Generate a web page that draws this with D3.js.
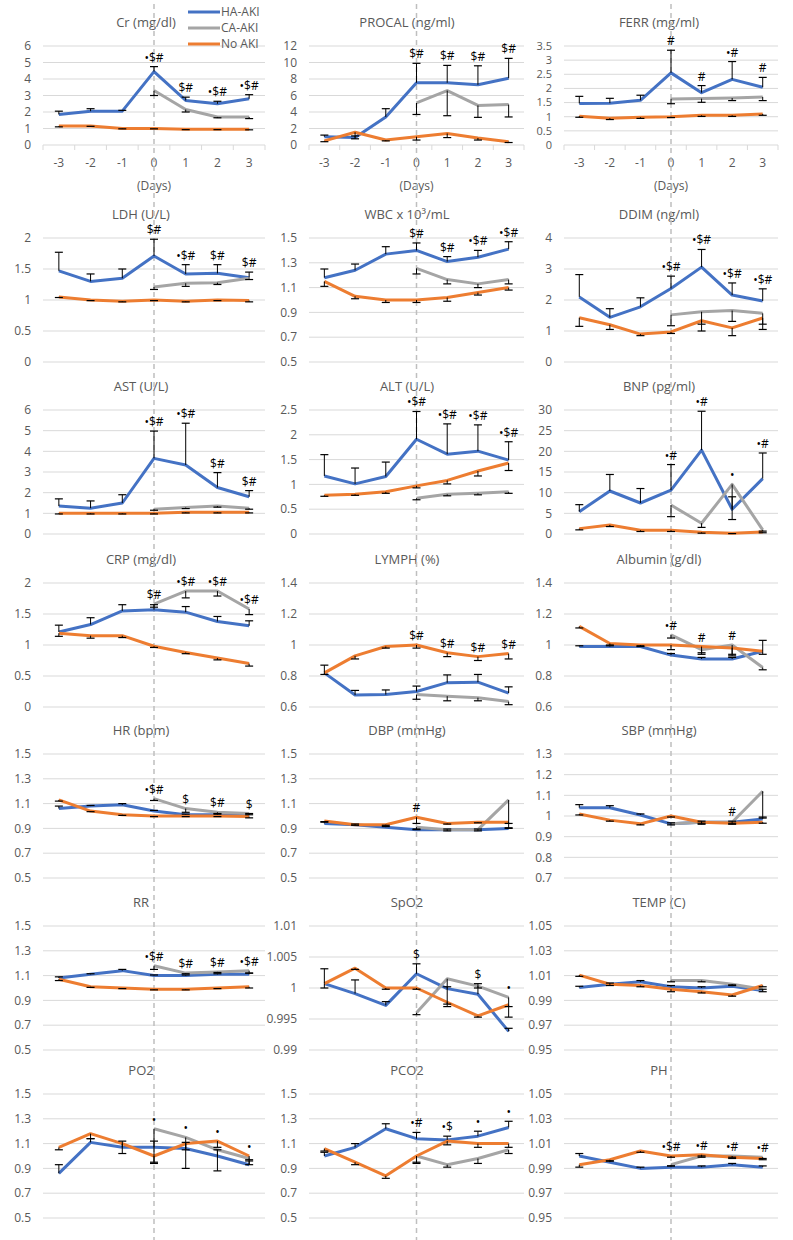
<!DOCTYPE html>
<html>
<head>
<meta charset="utf-8">
<script src="https://cdn.jsdelivr.net/npm/d3@7"></script>
<style>
  body { margin: 0; background: #fff; }
  svg { display: block; font-family: "Open Sans", sans-serif; }
</style>
</head>
<body>
<svg id="chart" width="793" height="1240"></svg>
<script>
// days relative to AKI onset; CA-AKI only has values from day 0
const days = [-3, -2, -1, 0, 1, 2, 3];
const caDays = [0, 1, 2, 3];
const seriesNames = ["HA-AKI", "CA-AKI", "No AKI"];

// Cr
const crHA = [1.85, 2.05, 2.05, 4.45, 2.7, 2.5, 2.8];
const crHAErr = [0.2, 0.15, 0.05, 0.3, 0.2, 0.15, 0.25];
const crCA = [3.3, 2.15, 1.7, 1.7];
const crCAErr = [0.3, 0.15, 0.05, 0.1];
const crNo = [1.15, 1.15, 1.0, 1.0, 0.95, 0.95, 0.95];
const crNoErr = [0.05, 0.02, 0.02, 0.02, 0.02, 0.02, 0.03];
const crMarks = ["•$#", "$#", "•$#", "•$#"];
const crTicks = [0, 1, 2, 3, 4, 5, 6];

// PROCAL
const pctHA = [1.0, 0.9, 3.4, 7.55, 7.55, 7.3, 8.1];
const pctHAErr = [0.2, 0.2, 1.0, 2.35, 2.1, 2.3, 2.4];
const pctCA = [5.1, 6.6, 4.8, 4.9];
const pctCAErr = [1.4, 3.05, 1.45, 1.5];
const pctNo = [0.5, 1.55, 0.6, 1.0, 1.4, 0.85, 0.4];
const pctNoErr = [0.1, 0.8, 0.1, 0.4, 0.5, 0.25, 0.1];
const pctMarks = ["$#", "$#", "$#", "$#"];
const pctTicks = [0, 2, 4, 6, 8, 10, 12];

// FERR
const ferHA = [1.47, 1.48, 1.58, 2.55, 1.85, 2.32, 2.04];
const ferHAErr = [0.25, 0.17, 0.18, 0.8, 0.25, 0.63, 0.35];
const ferCA = [1.63, 1.64, 1.66, 1.7];
const ferCAErr = [0.17, 0.13, 0.09, 0.13];
const ferNo = [1.02, 0.95, 0.98, 1.0, 1.05, 1.05, 1.1];
const ferNoErr = [0.04, 0.05, 0.04, 0.03, 0.04, 0.04, 0.05];
const ferMarks = ["#", "#", "•#", "#"];
const ferTicks = [0, 0.5, 1, 1.5, 2, 2.5, 3, 3.5];

// LDH
const ldhHA = [1.47, 1.3, 1.35, 1.71, 1.42, 1.43, 1.36];
const ldhHAErr = [0.3, 0.12, 0.15, 0.27, 0.15, 0.14, 0.09];
const ldhCA = [1.21, 1.27, 1.28, 1.35];
const ldhCAErr = [0.04, 0.05, 0.03, 0.02];
const ldhNo = [1.05, 1.0, 0.98, 1.0, 0.98, 1.0, 0.99];
const ldhNoErr = [0.01, 0.01, 0.01, 0.01, 0.01, 0.01, 0.02];
const ldhMarks = ["$#", "•$#", "$#", "$#"];
const ldhTicks = [0, 0.5, 1, 1.5, 2];

// WBC
const wbcHA = [1.18, 1.24, 1.37, 1.4, 1.31, 1.345, 1.41];
const wbcHAErr = [0.07, 0.05, 0.06, 0.06, 0.04, 0.055, 0.06];
const wbcCA = [1.255, 1.165, 1.13, 1.165];
const wbcCAErr = [0.045, 0.035, 0.03, 0.035];
const wbcNo = [1.15, 1.03, 1.0, 1.0, 1.02, 1.06, 1.1];
const wbcNoErr = [0.04, 0.02, 0.02, 0.02, 0.03, 0.02, 0.02];
const wbcMarks = ["$#", "$#", "•$#", "•$#"];
const wbcTicks = [0.5, 0.7, 0.9, 1.1, 1.3, 1.5];

// DDIM
const ddHA = [2.1, 1.44, 1.78, 2.37, 3.06, 2.16, 1.97];
const ddHAErr = [0.72, 0.28, 0.29, 0.4, 0.57, 0.39, 0.39];
const ddCA = [1.52, 1.62, 1.66, 1.57];
const ddCAErr = [0.35, 0.4, 0.35, 0.35];
const ddNo = [1.43, 1.2, 0.9, 0.97, 1.33, 1.1, 1.42];
const ddNoErr = [0.28, 0.15, 0.05, 0.05, 0.33, 0.25, 0.37];
const ddMarks = ["•$#", "•$#", "•$#", "•$#"];
const ddTicks = [0, 1, 2, 3, 4];

// AST
const astHA = [1.35, 1.25, 1.5, 3.66, 3.34, 2.25, 1.8];
const astHAErr = [0.35, 0.35, 0.4, 1.32, 2.02, 0.72, 0.3];
const astCA = [1.2, 1.28, 1.35, 1.25];
const astCAErr = [0.05, 0.05, 0.05, 0.05];
const astNo = [1.0, 1.0, 1.0, 1.0, 1.05, 1.05, 1.05];
const astNoErr = [0.03, 0.03, 0.03, 0.03, 0.03, 0.03, 0.03];
const astMarks = ["•$#", "•$#", "$#", "$#"];
const astTicks = [0, 1, 2, 3, 4, 5, 6];

// ALT
const altHA = [1.17, 1.01, 1.16, 1.91, 1.61, 1.67, 1.49];
const altHAErr = [0.43, 0.32, 0.29, 0.56, 0.61, 0.53, 0.37];
const altCA = [0.72, 0.8, 0.82, 0.85];
const altCAErr = [0.03, 0.03, 0.03, 0.03];
const altNo = [0.78, 0.8, 0.85, 0.97, 1.08, 1.27, 1.43];
const altNoErr = [0.02, 0.02, 0.03, 0.04, 0.07, 0.1, 0.15];
const altMarks = ["•$#", "•$#", "•$#", "•$#"];
const altTicks = [0, 0.5, 1, 1.5, 2, 2.5];

// BNP
const bnpHA = [5.4, 10.4, 7.5, 10.6, 20.3, 6.0, 13.4];
const bnpHAErr = [1.7, 4.0, 3.5, 6.2, 9.4, 3.0, 6.2];
const bnpCA = [7.0, 2.6, 12.0, 1.0];
const bnpCAErr = [2.8, 1.0, 8.5, 0.3];
const bnpNo = [1.3, 2.2, 0.9, 0.9, 0.4, 0.2, 0.5];
const bnpNoErr = [0.3, 0.4, 0.3, 0.3, 0.2, 0.1, 0.2];
const bnpMarks = ["•#", "•#", "•", "•#"];
const bnpTicks = [0, 5, 10, 15, 20, 25, 30];

// CRP
const crpHA = [1.21, 1.33, 1.55, 1.57, 1.53, 1.38, 1.31];
const crpHAErr = [0.11, 0.11, 0.1, 0.08, 0.09, 0.08, 0.08];
const crpCA = [1.66, 1.87, 1.87, 1.58];
const crpCAErr = [0.05, 0.11, 0.08, 0.09];
const crpNo = [1.19, 1.15, 1.15, 0.98, 0.88, 0.79, 0.7];
const crpNoErr = [0.05, 0.04, 0.03, 0.02, 0.02, 0.03, 0.04];
const crpMarks = ["$#", "•$#", "•$#", "•$#"];
const crpTicks = [0, 0.5, 1, 1.5, 2];

// LYMPH
const lymHA = [0.82, 0.677, 0.68, 0.7, 0.757, 0.76, 0.69];
const lymHAErr = [0.05, 0.03, 0.03, 0.035, 0.05, 0.05, 0.04];
const lymCA = [0.68, 0.67, 0.66, 0.635];
const lymCAErr = [0.03, 0.03, 0.02, 0.02];
const lymNo = [0.82, 0.93, 0.99, 1.0, 0.95, 0.925, 0.945];
const lymNoErr = [0.01, 0.02, 0.01, 0.02, 0.025, 0.025, 0.035];
const lymMarks = ["$#", "$#", "$#", "$#"];
const lymTicks = [0.6, 0.8, 1, 1.2, 1.4];

// Albumin
const albHA = [0.99, 0.99, 0.99, 0.935, 0.91, 0.91, 0.96];
const albHAErr = [0.005, 0.005, 0.005, 0.01, 0.01, 0.01, 0.07];
const albCA = [1.065, 0.97, 1.0, 0.855];
const albCAErr = [0.02, 0.03, 0.07, 0.015];
const albNo = [1.12, 1.01, 1.0, 1.0, 0.99, 0.98, 0.96];
const albNoErr = [0.01, 0.01, 0.01, 0.03, 0.04, 0.04, 0.02];
const albMarks = ["•#", "#", "#", ""];
const albTicks = [0.6, 0.8, 1, 1.2, 1.4];

// HR
const hrHA = [1.06, 1.08, 1.09, 1.04, 1.01, 1.01, 1.01];
const hrHAErr = [0.02, 0.005, 0.01, 0.005, 0.005, 0.005, 0.01];
const hrCA = [1.14, 1.06, 1.03, 1.02];
const hrCAErr = [0.015, 0.03, 0.01, 0.01];
const hrNo = [1.13, 1.04, 1.01, 1.0, 1.0, 1.0, 0.995];
const hrNoErr = [0.01, 0.005, 0.005, 0.005, 0.005, 0.005, 0.01];
const hrMarks = ["•$#", "$", "$#", "$"];
const hrTicks = [0.5, 0.7, 0.9, 1.1, 1.3, 1.5];

// DBP
const dbpHA = [0.94, 0.93, 0.91, 0.89, 0.89, 0.89, 0.9];
const dbpHAErr = [0.01, 0.005, 0.005, 0.005, 0.005, 0.005, 0.005];
const dbpCA = [0.91, 0.89, 0.89, 1.13];
const dbpCAErr = [0.02, 0.01, 0.01, 0.23];
const dbpNo = [0.96, 0.93, 0.93, 0.99, 0.94, 0.95, 0.95];
const dbpNoErr = [0.005, 0.005, 0.005, 0.05, 0.005, 0.005, 0.01];
const dbpMarks = ["#", "", "", ""];
const dbpTicks = [0.5, 0.7, 0.9, 1.1, 1.3, 1.5];

// SBP
const sbpHA = [1.04, 1.04, 1.005, 0.962, 0.97, 0.97, 0.985];
const sbpHAErr = [0.015, 0.01, 0.005, 0.005, 0.005, 0.005, 0.01];
const sbpCA = [0.962, 0.97, 0.97, 1.12];
const sbpCAErr = [0.005, 0.01, 0.005, 0.13];
const sbpNo = [1.01, 0.98, 0.962, 1.0, 0.97, 0.965, 0.97];
const sbpNoErr = [0.005, 0.005, 0.005, 0.005, 0.005, 0.005, 0.005];
const sbpMarks = ["", "", "#", ""];
const sbpTicks = [0.7, 0.8, 0.9, 1, 1.1, 1.2, 1.3];

// RR
const rrHA = [1.08, 1.11, 1.14, 1.1, 1.1, 1.11, 1.11];
const rrHAErr = [0.01, 0.005, 0.01, 0.005, 0.005, 0.005, 0.01];
const rrCA = [1.18, 1.12, 1.13, 1.14];
const rrCAErr = [0.03, 0.005, 0.005, 0.02];
const rrNo = [1.07, 1.01, 1.0, 0.99, 0.99, 1.0, 1.01];
const rrNoErr = [0.01, 0.005, 0.005, 0.005, 0.005, 0.005, 0.01];
const rrMarks = ["•$#", "$#", "$#", "•$#"];
const rrTicks = [0.5, 0.7, 0.9, 1.1, 1.3, 1.5];

// SpO2
const spoHA = [1.0007, 0.9991, 0.9972, 1.0023, 0.9999, 0.999, 0.993];
const spoHAErr = [0.0024, 0.0022, 0.0006, 0.0016, 0.0003, 0.0017, 0.0005];
const spoCA = [0.996, 1.0015, 1.0003, 0.9985];
const spoCAErr = [0.0003, 0.0045, 0.0003, 0.0015];
const spoNo = [1.0007, 1.0032, 1.0, 1.0, 0.9977, 0.9955, 0.9973];
const spoNoErr = [0.0007, 0.0002, 0.0002, 0.0002, 0.0003, 0.0002, 0.002];
const spoMarks = ["$", "", "$", "•"];
const spoTicks = [0.99, 0.995, 1, 1.005, 1.01];

// TEMP
const tmpHA = [1.0004, 1.003, 1.005, 1.001, 1.0, 1.0015, 0.998];
const tmpHAErr = [0.001, 0.001, 0.001, 0.001, 0.001, 0.001, 0.001];
const tmpCA = [1.006, 1.006, 1.003, 0.999];
const tmpCAErr = [0.001, 0.001, 0.001, 0.002];
const tmpNo = [1.0104, 1.003, 1.002, 0.999, 0.997, 0.9944, 1.002];
const tmpNoErr = [0.001, 0.001, 0.001, 0.002, 0.001, 0.001, 0.001];
const tmpMarks = ["", "", "", ""];
const tmpTicks = [0.95, 0.97, 0.99, 1.01, 1.03, 1.05];

// PO2
const po2HA = [0.86, 1.11, 1.07, 1.07, 1.06, 1.0, 0.93];
const po2HAErr = [0.07, 0.03, 0.05, 0.05, 0.05, 0.05, 0.03];
const po2CA = [1.22, 1.15, 1.05, 0.98];
const po2CAErr = [0.28, 0.25, 0.17, 0.05];
const po2No = [1.07, 1.18, 1.1, 1.0, 1.1, 1.12, 1.0];
const po2NoErr = [0.02, 0.04, 0.08, 0.05, 0.05, 0.05, 0.03];
const po2Marks = ["•", "•", "•", "•"];
const po2Ticks = [0.5, 0.7, 0.9, 1.1, 1.3, 1.5];

// PCO2
const pco2HA = [1.0, 1.07, 1.22, 1.14, 1.13, 1.16, 1.23];
const pco2HAErr = [0.03, 0.03, 0.04, 0.05, 0.03, 0.04, 0.05];
const pco2CA = [1.0, 0.93, 0.98, 1.05];
const pco2CAErr = [0.06, 0.02, 0.04, 0.03];
const pco2No = [1.06, 0.95, 0.84, 1.0, 1.12, 1.1, 1.1];
const pco2NoErr = [0.02, 0.02, 0.02, 0.05, 0.03, 0.03, 0.03];
const pco2Marks = ["•#", "•$", "•", "•"];
const pco2Ticks = [0.5, 0.7, 0.9, 1.1, 1.3, 1.5];

// PH
const phHA = [1.0, 0.995, 0.99, 0.991, 0.991, 0.993, 0.991];
const phHAErr = [0.002, 0.001, 0.001, 0.001, 0.001, 0.001, 0.001];
const phCA = [0.993, 1.0, 1.0, 0.999];
const phCAErr = [0.001, 0.001, 0.001, 0.001];
const phNo = [0.993, 0.997, 1.004, 1.0, 1.001, 0.999, 0.998];
const phNoErr = [0.002, 0.001, 0.001, 0.001, 0.001, 0.001, 0.001];
const phMarks = ["•$#", "•#", "•#", "•#"];
const phTicks = [0.95, 0.97, 0.99, 1.01, 1.03, 1.05];

const titles = ["Cr (mg/dl)", "PROCAL (ng/ml)", "FERR (mg/ml)",
  "LDH (U/L)", "WBC x 10³/mL", "DDIM (ng/ml)",
  "AST (U/L)", "ALT (U/L)", "BNP (pg/ml)",
  "CRP (mg/dl)", "LYMPH (%)", "Albumin (g/dl)",
  "HR (bpm)", "DBP (mmHg)", "SBP (mmHg)",
  "RR", "SpO2", "TEMP (C)",
  "PO2", "PCO2", "PH"];

const panels = [
  [crHA, crHAErr, crCA, crCAErr, crNo, crNoErr, crMarks, crTicks],
  [pctHA, pctHAErr, pctCA, pctCAErr, pctNo, pctNoErr, pctMarks, pctTicks],
  [ferHA, ferHAErr, ferCA, ferCAErr, ferNo, ferNoErr, ferMarks, ferTicks],
  [ldhHA, ldhHAErr, ldhCA, ldhCAErr, ldhNo, ldhNoErr, ldhMarks, ldhTicks],
  [wbcHA, wbcHAErr, wbcCA, wbcCAErr, wbcNo, wbcNoErr, wbcMarks, wbcTicks],
  [ddHA, ddHAErr, ddCA, ddCAErr, ddNo, ddNoErr, ddMarks, ddTicks],
  [astHA, astHAErr, astCA, astCAErr, astNo, astNoErr, astMarks, astTicks],
  [altHA, altHAErr, altCA, altCAErr, altNo, altNoErr, altMarks, altTicks],
  [bnpHA, bnpHAErr, bnpCA, bnpCAErr, bnpNo, bnpNoErr, bnpMarks, bnpTicks],
  [crpHA, crpHAErr, crpCA, crpCAErr, crpNo, crpNoErr, crpMarks, crpTicks],
  [lymHA, lymHAErr, lymCA, lymCAErr, lymNo, lymNoErr, lymMarks, lymTicks],
  [albHA, albHAErr, albCA, albCAErr, albNo, albNoErr, albMarks, albTicks],
  [hrHA, hrHAErr, hrCA, hrCAErr, hrNo, hrNoErr, hrMarks, hrTicks],
  [dbpHA, dbpHAErr, dbpCA, dbpCAErr, dbpNo, dbpNoErr, dbpMarks, dbpTicks],
  [sbpHA, sbpHAErr, sbpCA, sbpCAErr, sbpNo, sbpNoErr, sbpMarks, sbpTicks],
  [rrHA, rrHAErr, rrCA, rrCAErr, rrNo, rrNoErr, rrMarks, rrTicks],
  [spoHA, spoHAErr, spoCA, spoCAErr, spoNo, spoNoErr, spoMarks, spoTicks],
  [tmpHA, tmpHAErr, tmpCA, tmpCAErr, tmpNo, tmpNoErr, tmpMarks, tmpTicks],
  [po2HA, po2HAErr, po2CA, po2CAErr, po2No, po2NoErr, po2Marks, po2Ticks],
  [pco2HA, pco2HAErr, pco2CA, pco2CAErr, pco2No, pco2NoErr, pco2Marks, pco2Ticks],
  [phHA, phHAErr, phCA, phCAErr, phNo, phNoErr, phMarks, phTicks]
];

// layout
const colors = ["#4472C4", "#A5A5A5", "#ED7D31"];
const colRange = [[43, 265], [309, 524], [564, 778]];
const titleX = [141, 407, 659];
const rowTop = [46, 238, 410, 583, 754, 926, 1094];
const rowH = 124;
const textCol = "#595959";

const svg = d3.select("#chart");
const gGrid = svg.append("g");
const gDash = svg.append("g");
const gData = svg.append("g");

panels.forEach((p, i) => {
  const row = Math.floor(i / 3), col = i % 3;
  const [ha, haErr, ca, caErr, no, noErr, marks, ticks] = p;
  const top = rowTop[row];
  const bottom = row === 0 ? 145 : top + rowH;

  const x = d3.scaleBand().domain(days).range(colRange[col]);
  const cx = d => x(d) + x.bandwidth() / 2;
  const y = d3.scaleLinear().domain([ticks[0], ticks[ticks.length - 1]]).range([bottom, top]);
  // tight tick spacing gets a smaller label
  const tickFont = (bottom - top) / (ticks.length - 1) < 15 ? "11px" : "12px";

  // title
  gGrid.append("text")
    .attr("x", row === 0 && col === 0 ? 146 : titleX[col]).attr("y", top - 19)
    .attr("text-anchor", "middle").attr("fill", textCol)
    .style("font-size", "13px").text(titles[i]);

  // gridlines + tick labels
  gGrid.append("g").selectAll("line").data(ticks).join("line")
    .attr("x1", colRange[col][0]).attr("x2", colRange[col][1])
    .attr("y1", d => y(d)).attr("y2", d => y(d))
    .attr("stroke", "#D9D9D9").attr("stroke-width", 1);
  gGrid.append("g").selectAll("text").data(ticks).join("text")
    .attr("x", colRange[col][0] - 12).attr("y", d => y(d)).attr("dy", "0.35em")
    .attr("text-anchor", "end").attr("fill", textCol).style("font-size", tickFont)
    .text(d => String(d));

  // x axis on the first row only
  if (row === 0) {
    const ax = gGrid.append("g");
    const edges = days.map(d => x(d)).concat([colRange[col][1]]);
    ax.selectAll("line").data(edges).join("line")
      .attr("x1", d => d).attr("x2", d => d)
      .attr("y1", bottom).attr("y2", bottom + 5)
      .attr("stroke", "#D9D9D9");
    ax.selectAll("text").data(days).join("text")
      .attr("x", d => cx(d)).attr("y", bottom + 22)
      .attr("text-anchor", "middle").attr("fill", textCol).style("font-size", "12px")
      .text(d => d);
    ax.append("text").attr("x", cx(0)).attr("y", bottom + 45)
      .attr("text-anchor", "middle").attr("fill", textCol).style("font-size", "12px")
      .text("(Days)");
    gDash.append("line")
      .attr("x1", cx(0)).attr("x2", cx(0)).attr("y1", 4).attr("y2", 1240)
      .attr("stroke", "#BFBFBF").attr("stroke-width", 1.5)
      .attr("stroke-dasharray", "5,4");
  }

  const series = [
    { vals: ha, err: haErr, d: days, dir: 1, c: colors[0] },
    { vals: ca, err: caErr, d: caDays, dir: -1, c: colors[1] },
    { vals: no, err: noErr, d: days, dir: -1, c: colors[2] }
  ];

  const line = d3.line().x(d => cx(d[0])).y(d => y(d[1]));
  const g = gData.append("g");

  series.forEach(s => {
    g.append("path")
      .datum(s.d.map((d, k) => [d, s.vals[k]]))
      .attr("d", line).attr("fill", "none")
      .attr("stroke", s.c).attr("stroke-width", 3)
      .attr("stroke-linejoin", "round");
  });

  series.forEach(s => {
    const eb = g.append("g").selectAll("g")
      .data(s.d.map((d, k) => ({ d, v: s.vals[k], e: s.err[k] * s.dir })))
      .join("g");
    eb.append("line")
      .attr("x1", e => cx(e.d)).attr("x2", e => cx(e.d))
      .attr("y1", e => y(e.v)).attr("y2", e => y(e.v + e.e))
      .attr("stroke", "#000").attr("stroke-width", 1);
    eb.append("line")
      .attr("x1", e => cx(e.d) - 4).attr("x2", e => cx(e.d) + 4)
      .attr("y1", e => y(e.v + e.e)).attr("y2", e => y(e.v + e.e))
      .attr("stroke", "#000").attr("stroke-width", 1.2);
  });

  // significance marks above the highest mark at each day from day 0
  caDays.forEach((d, k) => {
    if (!marks[k]) return;
    const j = days.indexOf(d);
    const topVal = Math.max(ha[j] + haErr[j], ca[k], no[j]);
    g.append("text")
      .attr("x", cx(d)).attr("y", y(topVal) - 5)
      .attr("text-anchor", "middle").attr("fill", "#000")
      .style("font-size", "12px").text(marks[k]);
  });
});

// legend
const leg = svg.append("g");
seriesNames.forEach((name, k) => {
  const ly = 12 + k * 16;
  leg.append("line").attr("x1", 188).attr("x2", 220).attr("y1", ly).attr("y2", ly)
    .attr("stroke", colors[k]).attr("stroke-width", 3);
  leg.append("text").attr("x", 221).attr("y", ly).attr("dy", "0.35em")
    .attr("fill", textCol).style("font-size", "12px").text(name);
});
</script>
</body>
</html>
